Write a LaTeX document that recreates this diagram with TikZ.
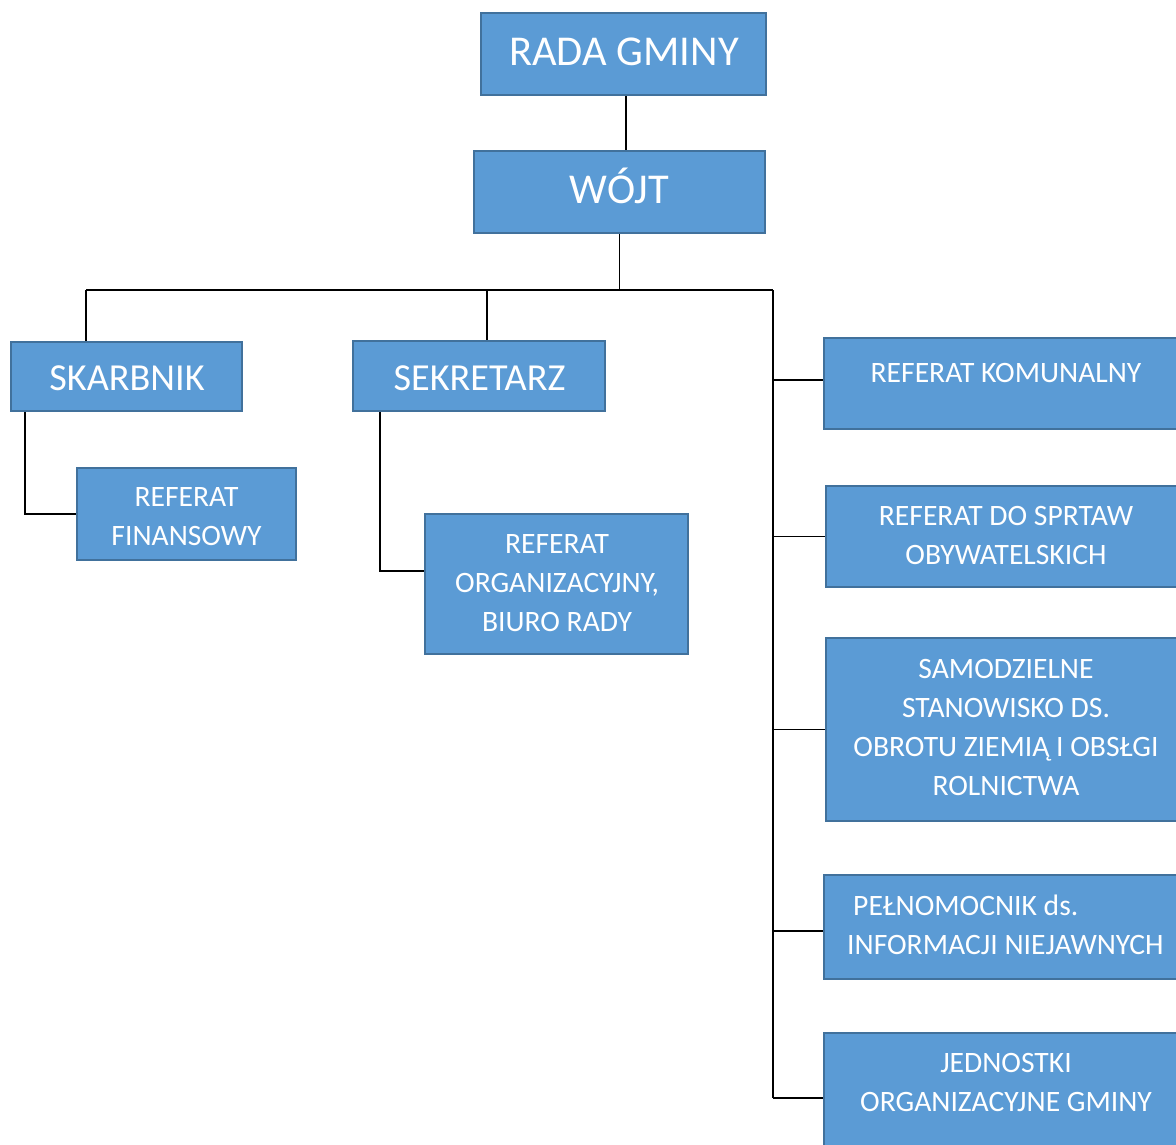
\documentclass[tikz,border=0pt]{standalone}
\usepackage{fontspec}
\setmainfont{Carlito}
\usetikzlibrary{backgrounds}
\definecolor{boxfill}{HTML}{5B9BD5}
\definecolor{boxline}{HTML}{41719C}
\begin{document}
\begin{tikzpicture}[x=1pt,y=-1pt,
  box/.style={draw=boxline, fill=boxfill, line width=2pt, anchor=north west, inner sep=0pt, outer sep=0pt},
  lbl/.style={text=white, inner sep=0pt, align=center},
  big/.style={font=\fontsize{42.5}{48}\selectfont},
  midf/.style={font=\fontsize{38.2}{44}\selectfont},
  smallf/.style={font=\fontsize{29.6}{39}\selectfont},
  conn/.style={draw=black, line width=1.4pt}]
\useasboundingbox (0,0) rectangle (1176,1144);
\clip (0,0) rectangle (1176,1144);

% boxes
\node[box, minimum width=285pt, minimum height=82pt] (rada) at (481,13) {};
\node[box, minimum width=291pt, minimum height=82pt] (wojt) at (474,151) {};
\node[box, minimum width=231pt, minimum height=69pt] (skar) at (11,342) {};
\node[box, minimum width=252pt, minimum height=70pt] (sek) at (353,341) {};
\node[box, minimum width=219pt, minimum height=92pt] (fin) at (77,468) {};
\node[box, minimum width=263pt, minimum height=140pt] (org) at (425,514) {};
\node[box, minimum width=364pt, minimum height=91pt] (kom) at (824,338) {};
\node[box, minimum width=362pt, minimum height=101pt] (oby) at (826,486) {};
\node[box, minimum width=362pt, minimum height=183pt] (sam) at (826,638) {};
\node[box, minimum width=364pt, minimum height=104pt] (pel) at (824,875) {};
\node[box, minimum width=364pt, minimum height=130pt] (jed) at (824,1033) {};

% labels
\node[lbl, big, anchor=base] (radaT) at (624,65) {RADA GMINY};
\node[lbl, big, anchor=base] (wojtT) at (619.5,203) {WÓJT};
\node[lbl, midf, anchor=base] (skarT) at (127,390) {SKARBNIK};
\node[lbl, midf, anchor=base] (sekT) at (479.5,390) {SEKRETARZ};
\node[lbl, smallf] (finT) at (186.5,517) {REFERAT\\FINANSOWY};
\node[lbl, smallf] (orgT) at (557,583) {REFERAT\\ORGANIZACYJNY,\\BIURO RADY};
\node[lbl, smallf, anchor=base] (komT) at (1006,382) {REFERAT KOMUNALNY};
\node[lbl, smallf] (obyT) at (1006,535.5) {REFERAT DO SPRTAW\\OBYWATELSKICH};
\node[lbl, smallf] (samT) at (1006,727) {SAMODZIELNE\\STANOWISKO DS.\\OBROTU ZIEMIĄ I OBSŁGI\\ROLNICTWA};
\node[lbl, smallf, align=left, anchor=west] (pelT) at (847,924.5) {\hspace*{6pt}PEŁNOMOCNIK ds.\\INFORMACJI NIEJAWNYCH};
\node[lbl, smallf] (jedT) at (1006,1082.5) {JEDNOSTKI\\ORGANIZACYJNE GMINY};

% connectors
\begin{scope}[on background layer]
\coordinate (busL) at (86,290);
\coordinate (busS) at (487,290);
\coordinate (busR) at (773,290);
\coordinate (busEnd) at (773,1098);
\path (rada.south) ++(2.5,0) coordinate (radaS);
\draw[conn] (radaS) -- (radaS |- wojt.north);
\draw[conn] (wojt.south) -- (wojt.south |- busR);
\draw[conn] (busL) -- (busR);
\draw[conn] (busL) -- (busL |- skar.north);
\draw[conn] (busS) -- (busS |- sek.north);
\draw[conn] (busR) -- (busEnd);
\path (kom.west) ++(0,-3.5) coordinate (komIn);
\draw[conn] (busR |- komIn) -- (komIn);
\draw[conn] (busR |- oby.west) -- (oby.west);
\draw[conn] (busR |- sam.west) -- (sam.west);
\path (pel.west) ++(0,4) coordinate (pelIn);
\draw[conn] (busR |- pelIn) -- (pelIn);
\draw[conn] (busEnd) -- (jed.west);
\path (skar.south west) ++(14,0) coordinate (skarS);
\draw[conn] (skarS) |- (fin.west);
\path (sek.south west) ++(27,0) coordinate (sekS);
\path (org.west) ++(0,-13) coordinate (orgIn);
\draw[conn] (sekS) |- (orgIn);
\end{scope}
\end{tikzpicture}
\end{document}
